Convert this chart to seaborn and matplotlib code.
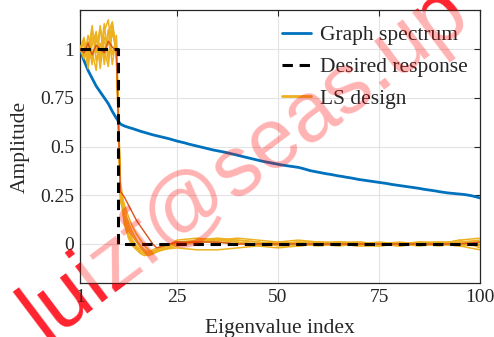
import numpy as np
import pandas as pd
import matplotlib
matplotlib.use("Agg")
import matplotlib.pyplot as plt
import seaborn as sns
from matplotlib.lines import Line2D

# ---------------- data ----------------
eig_index = list(range(1, 101))
graph_spectrum = [
    1.00, 0.94, 0.89, 0.85, 0.81, 0.78, 0.75, 0.72, 0.68, 0.645,
    0.615, 0.605, 0.598, 0.592, 0.585, 0.578, 0.572, 0.566, 0.560, 0.555,
    0.550, 0.545, 0.540, 0.534, 0.528, 0.523, 0.518, 0.512, 0.507, 0.502,
    0.497, 0.492, 0.487, 0.482, 0.478, 0.474, 0.470, 0.465, 0.460, 0.455,
    0.450, 0.445, 0.440, 0.435, 0.430, 0.425, 0.421, 0.417, 0.413, 0.409,
    0.405, 0.402, 0.399, 0.396, 0.393, 0.388, 0.382, 0.376, 0.372, 0.368,
    0.364, 0.360, 0.357, 0.353, 0.349, 0.346, 0.342, 0.339, 0.335, 0.331,
    0.328, 0.325, 0.322, 0.319, 0.316, 0.313, 0.310, 0.306, 0.303, 0.300,
    0.297, 0.294, 0.291, 0.288, 0.285, 0.281, 0.278, 0.275, 0.272, 0.268,
    0.265, 0.262, 0.260, 0.258, 0.256, 0.254, 0.251, 0.247, 0.242, 0.236,
]
desired_response = [1.0] * 10 + [0.0] * 90

ls_index = list(range(1, 21)) + list(range(25, 101, 5))
ls_run1 = [1.00, 1.05, 0.95, 1.10, 0.98, 1.12, 0.92, 1.08, 1.14, 1.00,
           0.30, 0.12, 0.05, 0.01, -0.02, -0.04, -0.05, -0.05, -0.04, -0.03,
           0.01, 0.02, 0.03, 0.02, 0.01, -0.01, -0.01, 0.00, 0.01, 0.01, 0.00, -0.01, 0.00, 0.01, 0.01, 0.02]
ls_run2 = [1.00, 0.97, 1.04, 0.92, 1.08, 0.96, 1.13, 0.94, 1.10, 1.02,
           0.25, 0.14, 0.07, 0.02, -0.01, -0.03, -0.04, -0.04, -0.03, -0.02,
           0.00, 0.02, 0.02, 0.01, 0.00, 0.00, 0.01, 0.01, 0.00, -0.01, -0.01, 0.00, 0.01, 0.00, -0.01, -0.03]
ls_run3 = [1.00, 1.02, 0.90, 1.06, 1.01, 0.93, 1.09, 1.15, 0.97, 1.05,
           0.28, 0.10, 0.03, -0.01, -0.03, -0.05, -0.06, -0.05, -0.04, -0.03,
           -0.02, -0.03, -0.03, -0.02, -0.01, 0.00, 0.01, 0.00, -0.01, 0.00, 0.01, 0.00, -0.01, 0.00, 0.02, 0.03]
ls_run4 = [1.00, 0.95, 1.07, 0.99, 0.89, 1.11, 1.00, 0.91, 1.12, 0.98,
           0.22, 0.15, 0.09, 0.04, 0.01, -0.02, -0.04, -0.05, -0.05, -0.04,
           0.02, 0.03, 0.02, 0.01, -0.01, -0.02, -0.01, 0.00, 0.01, 0.00, -0.01, 0.00, 0.01, 0.01, 0.00, -0.01]
ls_run5 = [1.00, 1.03, 0.98, 1.12, 0.94, 1.03, 0.95, 1.10, 0.92, 1.07,
           0.32, 0.18, 0.11, 0.06, 0.02, -0.01, -0.03, -0.04, -0.04, -0.03,
           0.01, 0.01, 0.02, 0.03, 0.02, 0.01, 0.00, -0.01, 0.00, 0.01, 0.00, 0.00, 0.00, -0.01, 0.01, 0.01]
ls_run6 = [1.00, 0.99, 1.01, 0.95, 1.05, 0.99, 1.04, 0.97, 1.08, 1.01,
           0.27, 0.20, 0.14, 0.09, 0.05, 0.02, -0.01, -0.03, -0.04, -0.04,
           0.00, 0.01, 0.01, 0.00, 0.00, 0.01, 0.02, 0.01, 0.00, -0.01, 0.00, 0.01, 0.00, 0.00, 0.02, -0.02]
ls_run7 = [1.00, 1.06, 0.93, 1.02, 1.09, 0.90, 1.06, 1.02, 1.13, 0.95,
           0.24, 0.11, 0.04, 0.00, -0.02, -0.04, -0.05, -0.06, -0.05, -0.04,
           -0.01, 0.01, 0.02, 0.02, 0.01, 0.00, 0.00, 0.01, 0.01, 0.00, 0.00, -0.01, 0.00, 0.00, -0.01, 0.00]
ls_run8 = [1.00, 0.98, 1.03, 0.97, 1.02, 1.00, 0.98, 1.04, 1.01, 0.99,
           0.27, 0.24, 0.20, 0.16, 0.12, 0.09, 0.06, 0.03, 0.00, -0.02,
           0.01, 0.01, 0.01, 0.00, 0.00, 0.00, 0.00, 0.00, 0.00, 0.00, 0.00, 0.00, 0.00, 0.00, 0.00, 0.01]

x_ticks = [1, 25, 50, 75, 100]
y_ticks = [0, 0.25, 0.5, 0.75, 1]
y_tick_labels = ["0", "0.25", "0.5", "0.75", "1"]
legend_labels = ["Graph spectrum", "Desired response", "LS design"]
watermark = "luizf@seas.up"

# ---------------- style ----------------
sns.set_style("white")
plt.rcParams["font.family"] = ["Liberation Serif", "DejaVu Serif"]

BLUE = "#0072BD"
YELLOW = "#EDB120"
ORANGE = "#D95319"

W, H, DPI = 494, 337, 100
fig = plt.figure(figsize=(W / DPI, H / DPI), dpi=DPI)
fig.patch.set_facecolor("white")
ax = fig.add_axes([80 / W, 1 - 283 / H, 400 / W, 273 / H])
ax.set_facecolor("white")

df_spec = pd.DataFrame({"idx": eig_index, "amp": graph_spectrum, "des": desired_response})
ls_runs = [ls_run1, ls_run2, ls_run3, ls_run4, ls_run5, ls_run6, ls_run7]
df_ls = pd.DataFrame({
    "idx": ls_index * len(ls_runs),
    "amp": sum(ls_runs, []),
    "run": np.repeat(np.arange(len(ls_runs)), len(ls_index)),
})
df_ls8 = pd.DataFrame({"idx": ls_index, "amp": ls_run8})

sns.lineplot(data=df_spec, x="idx", y="amp", color=BLUE, lw=2.0, ax=ax, zorder=3)
sns.lineplot(data=df_ls, x="idx", y="amp", units="run", estimator=None,
             color=YELLOW, lw=1.1, ax=ax, zorder=4)
sns.lineplot(data=df_ls8, x="idx", y="amp", color=ORANGE, lw=1.0, ax=ax, zorder=4)
sns.lineplot(data=df_spec, x="idx", y="des", color="black", lw=2.2, ax=ax,
             drawstyle="steps-mid", dashes=False, zorder=5)
ax.lines[-1].set_linestyle((0, (3.4, 2.2)))

ax.set_xlim(1, 100)
ax.set_ylim(-0.2, 1.2)
ax.set_xticks(x_ticks)
ax.set_xticklabels([str(t) for t in x_ticks])
ax.set_yticks(y_ticks)
ax.set_yticklabels(y_tick_labels)
ax.grid(True, color="#e3e3e3", lw=0.8)
ax.set_axisbelow(True)
for s in ax.spines.values():
    s.set_visible(True)
    s.set_color("#262626")
    s.set_linewidth(0.9)
ax.tick_params(direction="in", length=4, width=0.8, color="#262626",
               top=True, right=True, labelsize=14, labelcolor="#262626", pad=4)
ax.set_xlabel("Eigenvalue index", fontsize=15.5, color="#262626", labelpad=10)
ax.set_ylabel("Amplitude", fontsize=15.5, color="#262626", labelpad=8)

handles = [Line2D([], [], color=BLUE, lw=2.0),
           Line2D([], [], color="black", lw=2.2, ls=(0, (3.4, 2.2))),
           Line2D([], [], color=YELLOW, lw=2.0)]
ax.legend(handles, legend_labels, loc="upper right", frameon=False,
          fontsize=15.5, handlelength=1.35, handletextpad=0.45,
          labelspacing=0.55, borderaxespad=0.15, bbox_to_anchor=(1.0, 0.988))

# ---------------- watermark ----------------
em = 85.0
bx, by = 44.0, 337 - 342.0   # baseline start, pixels from bottom-left
for col, al, zo in (("#ff3344", 1.0, -5), ("#ff0000", 0.30, 50)):
    fig.text(bx / W, by / H, watermark, fontsize=em / (DPI / 72), color=col,
             alpha=al, family="Liberation Sans", rotation=37,
             rotation_mode="anchor", ha="left", va="baseline", zorder=zo)

fig.savefig("out.png", dpi=DPI)
